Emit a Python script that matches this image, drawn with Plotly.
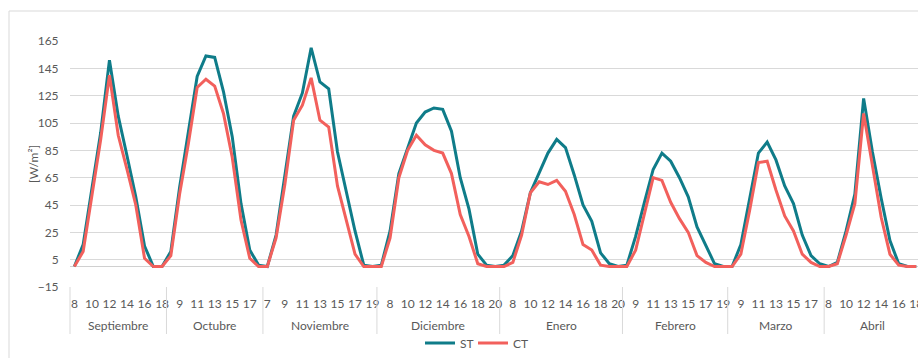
import plotly.graph_objects as go

# Months and the hours sampled in each one
months = ["Septiembre", "Octubre", "Noviembre", "Diciembre", "Enero", "Febrero", "Marzo", "Abril"]
hours = [
    list(range(8, 19)),   # Septiembre
    list(range(8, 19)),   # Octubre
    list(range(7, 20)),   # Noviembre
    list(range(7, 21)),   # Diciembre
    list(range(7, 21)),   # Enero
    list(range(8, 20)),   # Febrero
    list(range(8, 19)),   # Marzo
    list(range(8, 19)),   # Abril
]

# Irradiance per month and hour [W/m²]
st_values = [
    [0, 16, 57, 98, 151, 110, 81, 51, 15, 0, 0],
    [11, 58, 97, 139, 154, 153, 128, 95, 46, 12, 1],
    [0, 23, 67, 110, 127, 160, 135, 130, 84, 55, 26, 1, 0],
    [1, 26, 68, 87, 105, 113, 116, 115, 99, 65, 42, 9, 1, 0],
    [1, 8, 26, 54, 69, 83, 93, 87, 67, 45, 33, 10, 2, 0],
    [1, 22, 47, 71, 83, 77, 65, 51, 29, 16, 2, 0],
    [0, 16, 50, 83, 91, 78, 59, 46, 23, 8, 2],
    [0, 3, 26, 53, 123, 84, 50, 19, 2, 0, 0],
]
ct_values = [
    [0, 11, 52, 93, 140, 96, 71, 45, 6, 0, 0],
    [8, 53, 90, 131, 137, 132, 112, 80, 34, 6, 0],
    [0, 21, 60, 107, 118, 138, 107, 102, 59, 35, 9, 0, 0],
    [0, 21, 65, 85, 96, 89, 85, 83, 68, 38, 22, 2, 0, 0],
    [0, 3, 23, 54, 62, 60, 63, 55, 38, 16, 12, 1, 0, 0],
    [0, 12, 38, 65, 63, 47, 35, 25, 8, 3, 0, 0],
    [0, 9, 41, 76, 77, 56, 37, 26, 9, 3, 0],
    [0, 2, 23, 46, 112, 75, 36, 9, 1, 0, 0],
]

y_ticks = [-15, 5, 25, 45, 65, 85, 105, 125, 145, 165]

ST_COLOR = "#0F7C89"
CT_COLOR = "#F2605C"
TEXT = "#595959"
GRID = "#D9D9D9"
FONT = "Lato"

# Flatten onto a single positional axis
hour_flat = [h for hs in hours for h in hs]
st_flat = [v for vs in st_values for v in vs]
ct_flat = [v for vs in ct_values for v in vs]
idx = list(range(len(hour_flat)))

starts = []
pos = 0
for hs in hours:
    starts.append(pos)
    pos += len(hs)
n_total = pos

x_range = [-0.5, n_total - 0.8]

fig = go.Figure()
fig.add_trace(go.Scatter(x=idx, y=st_flat, mode="lines", name="ST", legend="legend",
                         line=dict(color=ST_COLOR, width=3)))
fig.add_trace(go.Scatter(x=idx, y=ct_flat, mode="lines", name="CT", legend="legend2",
                         line=dict(color=CT_COLOR, width=3)))

W, H = 918, 358
ml, mr, mt, mb = 70, 0, 41, 71
plot_w = W - ml - mr
plot_h = H - mt - mb


def py(px_y):
    """Pixel row -> paper y."""
    return (H - mb - px_y) / plot_h


def pxp(px_x):
    """Pixel column -> paper x."""
    return (px_x - ml) / plot_w


def px_of(i):
    return (i - x_range[0]) / (x_range[1] - x_range[0])


shapes = []
# month dividers under the axis
for s in starts:
    xp = px_of(s - 0.5)
    shapes.append(dict(type="line", xref="paper", yref="paper", x0=xp, x1=xp,
                       y0=0, y1=py(334), line=dict(color=GRID, width=1)))
# chart border
shapes.append(dict(type="rect", xref="paper", yref="paper",
                   x0=pxp(9), x1=1.2, y0=py(380), y1=py(11),
                   line=dict(color=GRID, width=1), layer="below"))

annotations = []
for m, s, hs in zip(months, starts, hours):
    annotations.append(dict(x=s + (len(hs) - 1) / 2, xref="x", y=py(325), yref="paper",
                            text=m, showarrow=False, xanchor="center", yanchor="middle",
                            font=dict(family=FONT, size=12, color=TEXT)))
annotations.append(dict(x=pxp(33), xref="paper", y=0.5, yref="paper",
                        text="[W/m²]", textangle=-90, showarrow=False,
                        xanchor="center", yanchor="middle",
                        font=dict(family=FONT, size=12, color=TEXT)))

legend_style = dict(orientation="h", xanchor="left", y=py(343), yanchor="middle",
                    font=dict(family=FONT, size=12, color=TEXT),
                    bgcolor="rgba(0,0,0,0)")

fig.update_layout(
    width=W, height=H,
    margin=dict(l=ml, r=mr, t=mt, b=mb, autoexpand=False),
    paper_bgcolor="white", plot_bgcolor="white",
    font=dict(family=FONT, size=12, color=TEXT),
    showlegend=True,
    legend=dict(x=pxp(420), **legend_style),
    legend2=dict(x=pxp(473), **legend_style),
    shapes=shapes,
    annotations=annotations,
)
fig.update_xaxes(
    range=x_range, showgrid=False, zeroline=False, showline=False,
    tickmode="array", tickvals=idx[::2], ticktext=[str(h) for h in hour_flat[::2]],
    ticks="outside", ticklen=6, tickcolor="rgba(0,0,0,0)",
    ticklabeloverflow="allow", automargin=False,
    tickfont=dict(family=FONT, size=12, color=TEXT),
)
fig.update_yaxes(
    range=[y_ticks[0], y_ticks[-1]], showgrid=True, gridcolor=GRID, gridwidth=1,
    zeroline=True, zerolinecolor="#D0D0D0", zerolinewidth=1, showline=False,
    tickmode="array", tickvals=y_ticks, automargin=False,
    ticks="outside", ticklen=8, tickcolor="rgba(0,0,0,0)",
    tickfont=dict(family=FONT, size=12, color=TEXT),
)

fig.write_html("out.html")
